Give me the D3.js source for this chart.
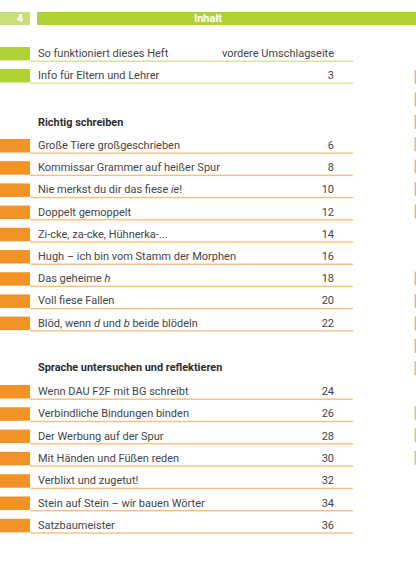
<!DOCTYPE html>
<html>
<head>
<meta charset="utf-8">
<script src="https://cdn.jsdelivr.net/npm/d3@7"></script>
<style>
  html, body { margin: 0; padding: 0; background: #fff; }
  svg { display: block; }
  text { font-family: Roboto, sans-serif; }
</style>
</head>
<body>
<svg id="page" width="416" height="587"></svg>
<script>
// page header
const pageNumber = "4";
const pageTitle = "Inhalt";

// intro entries (green)
const introTitles = ["So funktioniert dieses Heft", "Info für Eltern und Lehrer"];
const introPages = ["vordere Umschlagseite", "3"];

// section 1
const section1Title = "Richtig schreiben";
const section1Titles = [
    "Große Tiere großgeschrieben",
    "Kommissar Grammer auf heißer Spur",
    "Nie merkst du dir das fiese *ie*!",
    "Doppelt gemoppelt",
    "Zi-cke, za-cke, Hühnerka-...",
    "Hugh – ich bin vom Stamm der Morphen",
    "Das geheime *h*",
    "Voll fiese Fallen",
    "Blöd, wenn *d* und *b* beide blödeln"
];
const section1Pages = ["6", "8", "10", "12", "14", "16", "18", "20", "22"];

// section 2
const section2Title = "Sprache untersuchen und reflektieren";
const section2Titles = [
    "Wenn DAU F2F mit BG schreibt",
    "Verbindliche Bindungen binden",
    "Der Werbung auf der Spur",
    "Mit Händen und Füßen reden",
    "Verblixt und zugetut!",
    "Stein auf Stein – wir bauen Wörter",
    "Satzbaumeister"
];
const section2Pages = ["24", "26", "28", "30", "32", "34", "36"];

// tabs of the facing page that bleed in at the right edge (row index)
const edgeOrange = [0, 1, 2, 3, 4, 5, 6, 9, 10, 11, 12, 13];
const edgeGreen = [15, 16, 17];

const green = "#afd136", greenLight = "#c9df7a", greenLine = "#d2e497";
const orange = "#f39325", orangeLine = "#f7bf7e";
const ink = "#454545";

const svg = d3.select("#page");

// horizontal layout
const x = d3.scaleLinear().domain([0, 1]).range([0, 416]);
const tabW = 30, textX = 38, numX = 334, lineX0 = 30, lineX1 = 353;

// header bar
svg.append("rect").attr("x", 0).attr("y", 12).attr("width", tabW).attr("height", 13).attr("fill", greenLight);
svg.append("rect").attr("x", 37).attr("y", 12).attr("width", x(1) - 37).attr("height", 13).attr("fill", green);
svg.append("text").attr("x", 20).attr("y", 22.3).attr("text-anchor", "middle")
    .attr("fill", "#fff").attr("font-size", 11).attr("font-weight", "bold").text(pageNumber);
svg.append("text").attr("x", 208).attr("y", 22.3).attr("text-anchor", "middle")
    .attr("fill", "#fff").attr("font-size", 11).attr("font-weight", "bold").text(pageTitle);

const addStyled = (sel, str) => {
    str.split("*").forEach((part, i) => {
        if (part === "") return;
        sel.append("tspan").attr("font-style", i % 2 ? "italic" : "normal").text(part);
    });
};

const drawRows = (titles, pages, top, step, barColor, lineColor) => {
    const y = d3.scaleLinear().domain([0, 1]).range([top, top + step]);
    const rows = d3.zip(titles, pages);
    const g = svg.append("g");
    const row = g.selectAll("g").data(rows).join("g")
        .attr("transform", (d, i) => `translate(0,${y(i)})`);
    row.append("rect").attr("x", 0).attr("y", 0).attr("width", tabW).attr("height", 13.5).attr("fill", barColor);
    row.append("rect").attr("x", lineX0).attr("y", 13.5).attr("width", lineX1 - lineX0).attr("height", 1.4).attr("fill", lineColor);
    row.append("text").attr("x", textX).attr("y", 10)
        .attr("fill", ink).attr("font-size", 11)
        .each(function (d) { addStyled(d3.select(this), d[0]); });
    row.append("text").attr("x", numX).attr("y", 10).attr("text-anchor", "end")
        .attr("fill", ink).attr("font-size", 11).text(d => d[1]);
};

const heading = (txt, yy) => {
    svg.append("text").attr("x", textX).attr("y", yy)
        .attr("fill", "#2d2d2d").attr("font-size", 10.9).attr("font-weight", "bold").text(txt);
};

drawRows(introTitles, introPages, 47, 22, green, greenLine);
heading(section1Title, 126);
drawRows(section1Titles, section1Pages, 139, 22.2, orange, orangeLine);
heading(section2Title, 371);
drawRows(section2Titles, section2Pages, 385, 22.3, orange, orangeLine);

// facing page tabs
const edgeY = d3.scaleLinear().domain([0, 1]).range([70, 92.4]);
svg.append("g").selectAll("rect")
    .data(edgeOrange.map(i => ({i, c: "#f2b36e"})).concat(edgeGreen.map(i => ({i, c: "#bcd75a"}))))
    .join("rect")
    .attr("x", 414.6).attr("y", d => edgeY(d.i)).attr("width", 1.4).attr("height", 14)
    .attr("fill", d => d.c);
</script>
</body>
</html>
